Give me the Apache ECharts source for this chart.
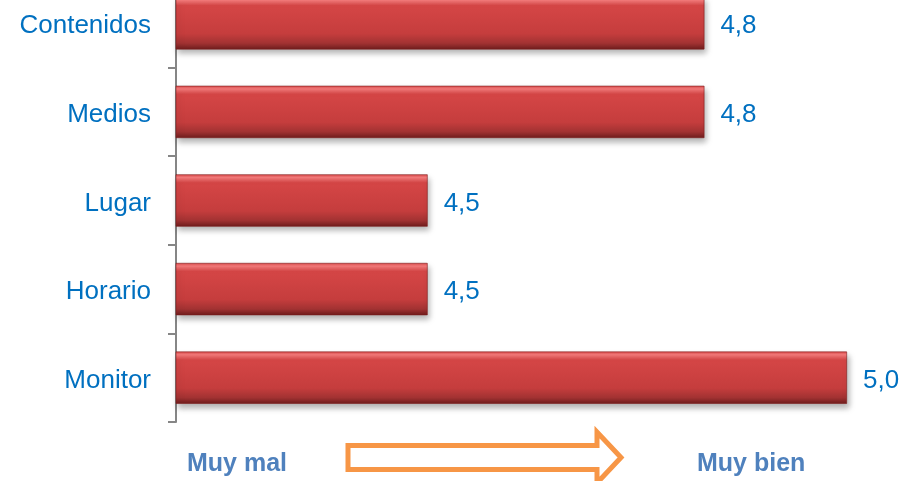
<!DOCTYPE html>
<html>
<head>
<meta charset="utf-8">
<script src="https://cdn.jsdelivr.net/npm/echarts@6/dist/echarts.min.js"></script>
<style>html,body{margin:0;padding:0;background:#fff;overflow:hidden;}#c{position:absolute;left:0;top:-21px;width:918px;height:502px;}</style>
</head>
<body>
<div id="c"></div>
<script>
var categories = ['Monitor', 'Horario', 'Lugar', 'Medios', 'Contenidos'];
var values = [5.0, 4.5, 4.5, 4.83, 4.83];
var scaleLabels = ['Muy mal', 'Muy bien'];

var OY = 21; // container offset
var chart = echarts.init(document.getElementById('c'), null, {renderer: 'canvas'});
var barGrad = new echarts.graphic.LinearGradient(0, 0, 0, 1, [
  {offset: 0, color: '#D94848'},
  {offset: 0.06, color: '#F57B7B'},
  {offset: 0.16, color: '#D54646'},
  {offset: 0.7, color: '#C53D3D'},
  {offset: 0.88, color: '#A23232'},
  {offset: 1, color: '#6E1D1D'}
]);
function pts(a) { return a.map(function (p) { return [p[0], p[1] + OY]; }); }
chart.setOption({
  animation: false,
  grid: {left: 176, right: 71, top: 0, bottom: 59, containLabel: false},
  xAxis: {
    type: 'value', min: 4.2, max: 5.0,
    show: false
  },
  yAxis: {
    type: 'category', data: categories,
    axisLine: {show: true, lineStyle: {color: '#868686', width: 2}},
    axisTick: {show: true, length: 8, lineStyle: {color: '#868686', width: 2}},
    axisLabel: {
      margin: 25,
      formatter: function (v) { return '{a|' + v + '}'; },
      rich: {a: {color: '#0070C0', fontSize: 26, fontFamily: 'Liberation Sans, Arial, sans-serif', padding: [6, 0, 0, 0]}}
    },
    splitLine: {show: false}
  },
  series: [{
    type: 'bar',
    data: values,
    barCategoryGap: '41%',
    itemStyle: {
      color: barGrad,
      borderColor: '#7E1C1C',
      borderWidth: 0.6,
      shadowBlur: 6,
      shadowOffsetX: 2,
      shadowOffsetY: 4,
      shadowColor: 'rgba(0,0,0,0.3)'
    },
    label: {
      show: true, position: 'right', distance: 16, offset: [0, 3],
      color: '#0070C0', fontSize: 26, fontFamily: 'Liberation Sans, Arial, sans-serif',
      formatter: function (p) { return p.value.toFixed(1).replace('.', ','); }
    }
  }],
  graphic: [
    {type: 'text', left: 187, top: 452 + OY, style: {text: scaleLabels[0], fill: '#4F81BD', font: 'bold 25px "Liberation Sans", Arial, sans-serif'}},
    {type: 'text', left: 697, top: 452 + OY, style: {text: scaleLabels[1], fill: '#4F81BD', font: 'bold 25px "Liberation Sans", Arial, sans-serif'}},
    {type: 'polygon', shape: {points: pts([[348, 445.5], [597, 445.5], [597, 432], [621, 457.5], [597, 483], [597, 469.5], [348, 469.5]])},
     style: {fill: '#fff', stroke: '#F79646', lineWidth: 5, lineJoin: 'miter'}}
  ]
});
</script>
</body>
</html>
